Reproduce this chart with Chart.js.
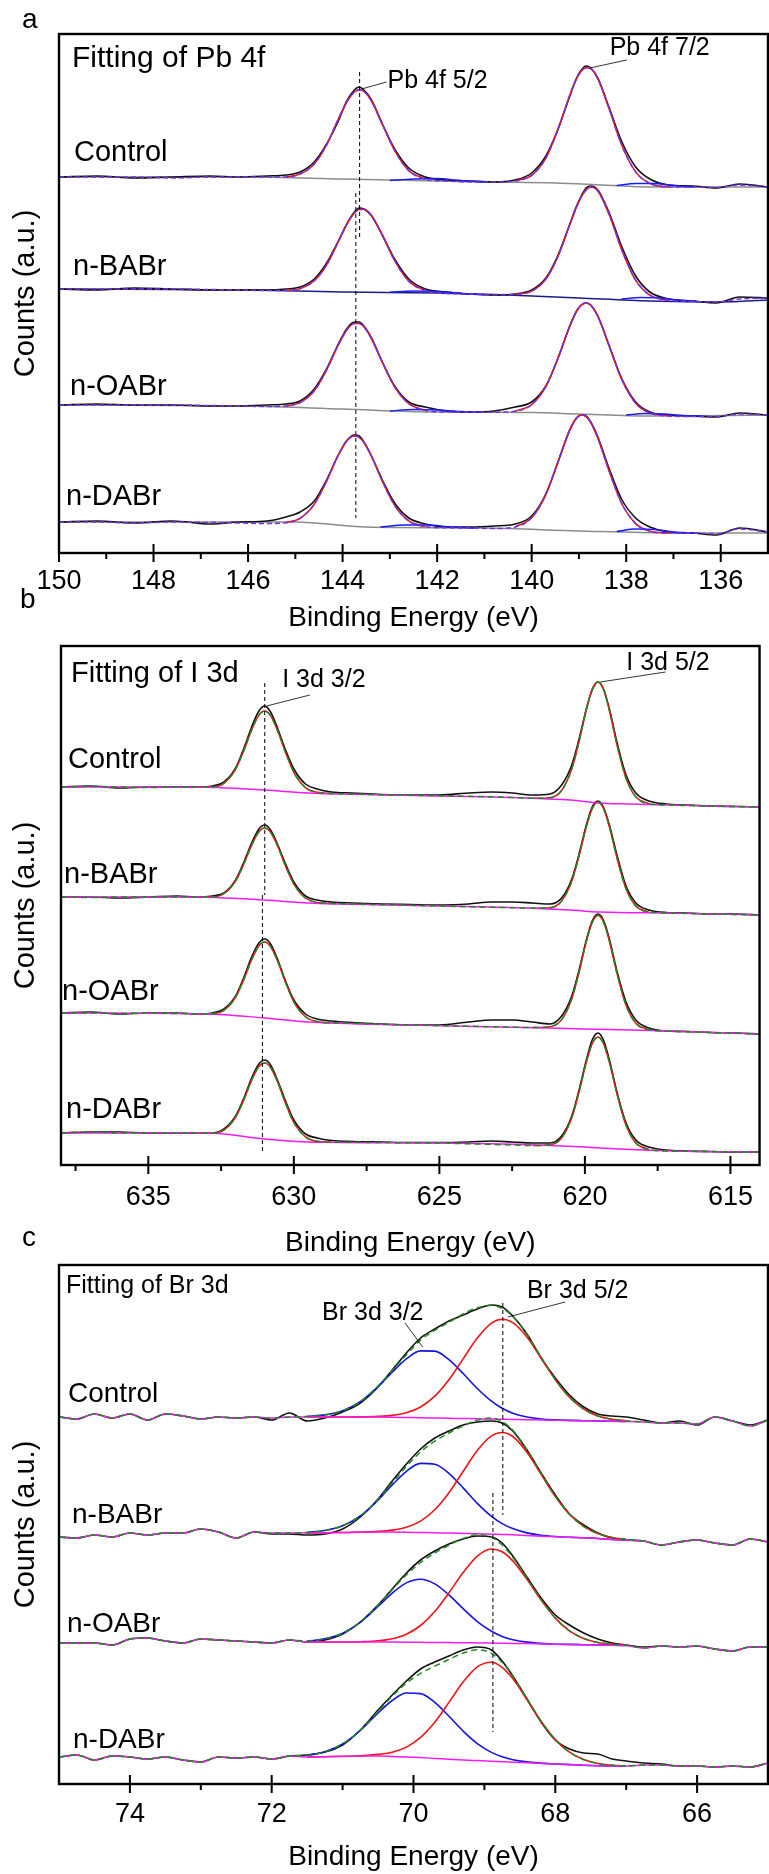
<!DOCTYPE html>
<html>
<head>
<meta charset="utf-8">
<script src="https://cdn.jsdelivr.net/npm/chart.js@4.4.1/dist/chart.umd.min.js"></script>
<style>
  html, body { margin: 0; padding: 0; background: #fff; }
  #page { position: relative; width: 769px; height: 1874px; overflow: hidden; }
  canvas { position: absolute; left: 0; }
</style>
</head>
<body>
<div id="page">
  <canvas id="pbChart" width="769" height="640" style="top:0px"></canvas>
  <canvas id="iChart" width="769" height="625" style="top:640px"></canvas>
  <canvas id="brChart" width="769" height="612" style="top:1262px"></canvas>
</div>
<script>
var FONT = '"Liberation Sans", Arial, Helvetica, sans-serif';
var samples = ['Control', 'n-BABr', 'n-OABr', 'n-DABr'];

//===========================================
//  Pb 4f spectra (intensity in a.u., relative to each trace's own offset)
//===========================================
var pbEnergy = [150, 149.2, 148.4, 147.6, 146.8, 146.2, 145.6, 145.2, 144.9, 144.6,
  144.35, 144.1, 143.9, 143.75, 143.65, 143.55, 143.4, 143.15, 142.9, 142.6,
  142.25, 141.8, 141.3, 140.8, 140.35, 140.0, 139.7, 139.45, 139.2, 139.05,
  138.95, 138.85, 138.75, 138.6, 138.35, 138.1, 137.8, 137.5, 137.1, 136.6,
  136.1, 135.6, 135];
var pbTicks = [150, 148, 146, 144, 142, 140, 138, 136];
var pbMinor = [149, 147, 145, 143, 141, 139, 137];
var pbOffset = [376, 264, 148, 31];
var pbRaw = [
  [0, 1, -1, 0, 1, 0, 1, 2, 5, 15, 32, 55, 77, 87, 90, 87, 78, 52, 28, 9, 0, -3, -4, -5, -3, 4, 21, 47, 80, 99, 107, 111, 109, 99, 68, 36, 10, -2, -8, -9, -11, -7, -10],
  [0, -1, 1, 0, -1, -1, -1, 0, 2, 10, 25, 47, 66, 77, 81, 80, 74, 53, 30, 10, 0, -3, -5, -6, -5, -1, 11, 33, 64, 83, 93, 101, 103, 99, 75, 43, 13, -3, -10, -12, -14, -8, -9],
  [0, 1, 0, 0, -1, -1, 0, 1, 4, 16, 35, 60, 77, 83, 83, 79, 68, 42, 19, 3, -2, -6, -7, -6, -2, 3, 19, 46, 78, 94, 100, 102, 100, 89, 58, 27, 3, -7, -10, -11, -12, -8, -10],
  [0, 1, -1, 1, -2, 0, 1, 5, 10, 21, 41, 66, 82, 87, 86, 80, 67, 41, 19, 4, -2, -5, -5, -4, -2, 6, 28, 59, 91, 104, 107, 106, 100, 85, 52, 23, 4, -5, -10, -11, -13, -6, -10]
];
var pbFit = [
  [0, 0, 0, -1, 0, 0, 0, 0, 3, 13, 31, 57, 76, 85, 87, 85.5, 77, 52, 26.6, 6.4, -2, -4, -5, -5, -3.9, 1.7, 18.9, 46.9, 81, 98.3, 106, 109.3, 108.4, 98.2, 66.7, 32.5, 5.1, -6.4, -10, -10, -10.5, -8, -10],
  [0, 0, 0, 0, -0.5, -1, -1.5, -1.5, 0.4, 8.2, 23.1, 46.3, 65.5, 75.9, 79.4, 79.7, 74.2, 53.1, 28.5, 7.9, -1.7, -4.5, -5, -5.5, -5.4, -2.1, 9.9, 31.9, 63.4, 82, 92.1, 99, 101.9, 98, 73.3, 39.9, 8.8, -6.1, -11.4, -12.5, -13, -10, -9],
  [0, 0, 0, 0, -0.5, -1, -1.5, -1, 2.4, 14.2, 33.9, 59.2, 75.8, 81.6, 81.6, 78.2, 67.3, 41.8, 18.2, 1.4, -5.4, -7, -7, -7.2, -6.2, 0.4, 18.4, 45.9, 78.4, 93.8, 99.9, 102, 99.7, 88.6, 57.8, 26.1, 1.8, -7.9, -11, -11.5, -11.5, -9, -10],
  [0, 0, -1, 0, -0.5, -1, -1.5, -0.7, 3.7, 17.7, 39.7, 66.2, 81.9, 86, 84.5, 79.6, 67, 39.9, 16.7, 1.1, -4.6, -5.8, -6, -6.5, -4.9, 4.2, 27.4, 59.2, 91.6, 104, 106.9, 105.4, 99.5, 83.8, 49.4, 19, -1.6, -9.1, -11, -11, -12, -7, -10]
];
// Shirley-type backgrounds, [energy, intensity]
var pbBack = [
  [[150, 0], [146, 0], [144, -2], [143, -3], [142, -4], [141, -5], [139.5, -6], [138.5, -8], [137.5, -10], [135, -10]],
  [[150, 0], [146, -1], [144, -3], [142, -4], [140.5, -6], [139, -9], [137.5, -12], [136, -13], [135, -11]],
  [[150, 0], [146, -1], [144, -4], [142, -7], [140, -7.5], [139, -9], [137.5, -11], [135, -10]],
  [[150, 0], [145, 0], [143.5, -5], [141, -6], [139, -9], [137, -11], [135, -11]]
];
// small metallic Pb components, null splits the two doublet lines
var pbMetal = [
  [[143.0, -3.5], [142.5, -2], [142.0, -1.5], [141.5, -3.5], [141.0, -5], [140.8, null], [138.2, -8.5], [137.8, -6.5], [137.4, -6.5], [137.0, -8.5], [136.6, -10]],
  [[143.0, -3.3], [142.5, -2], [142.0, -2.5], [141.5, -4.5], [141.0, -5.5], [140.8, null], [138.1, -10], [137.7, -8.5], [137.3, -9], [136.9, -11], [136.5, -12.5]],
  [[143.0, -6], [142.5, -4.5], [142.0, -5], [141.5, -6.5], [141.0, -7], [140.8, null], [138.0, -10], [137.6, -8.5], [137.2, -9], [136.8, -10.5], [136.4, -11]],
  [[143.2, -5], [142.7, -3], [142.2, -3], [141.7, -5], [141.2, -6], [140.8, null], [138.2, -9.5], [137.8, -7], [137.4, -7.5], [137.0, -10], [136.6, -11]]
];

//===========================================
//  I 3d spectra
//===========================================
var iEnergy = [638, 637, 636, 635, 634, 633.3, 632.8, 632.4, 632.0, 631.7,
  631.45, 631.2, 631.0, 630.8, 630.55, 630.3, 630.0, 629.6, 629.2, 628.7,
  628.0, 627.0, 626.0, 625.0, 624.0, 623.2, 622.5, 621.8, 621.2, 620.8,
  620.45, 620.2, 619.95, 619.75, 619.55, 619.35, 619.15, 618.9, 618.6, 618.25,
  617.8, 617.2, 616.5, 615.7, 614.8, 614];
var iTicks = [635, 630, 625, 620, 615];
var iMinor = [637.5, 632.5, 627.5, 622.5, 617.5];
var iOffset = [378, 268, 152, 32];
var iRaw = [
  [0, 1, -1, 0, 0, 0, 1, 5, 19, 40, 60, 76, 81, 75, 58, 38, 18, 3, -2, -5, -6, -7.5, -8, -8, -6, -5, -6, -8, -7, 2, 22, 48, 78, 97, 105, 97, 77, 45, 13, -6, -14, -17, -18, -19, -19.5, -20],
  [0, 0, -1, 0, 1, 0, 1, 4, 17, 36, 54, 68, 72, 67, 52, 34, 15, 1, -3, -5, -6, -7, -7.5, -8, -7, -5, -5, -6, -7, -1, 18, 43, 72, 90, 96, 89, 71, 42, 12, -6, -13, -15.5, -16, -17, -17, -18],
  [0, 1, -1, 0, 0, -1, 0, 4, 17, 37, 56, 70, 74, 69, 53, 33, 13, -1, -6, -8, -9.5, -11, -12, -12, -9, -7, -7, -9, -11, -3, 17, 43, 73, 92, 99, 92, 73, 42, 12, -7, -15, -18, -18.5, -19.5, -20, -21],
  [0, 1, 1, 0, 0, 0, 0, 4, 17, 36, 55, 69, 73, 68, 52, 33, 13, -1, -5, -7.5, -8.5, -9, -9.5, -9.5, -9, -8, -9, -10, -10, -3, 17, 43, 73, 93, 100, 92, 72, 41, 11, -7, -14, -17, -18, -18.5, -19, -19]
];
var iFit = [
  [0, 0.5, 0, -0.5, 0, 0, 0.1, 3.9, 17.9, 37.8, 57.1, 71.9, 76, 71.3, 55.7, 35.6, 14.7, -0.6, -5.3, -6.5, -7, -7.7, -8.2, -8.7, -9.3, -9.8, -10.5, -11.3, -10.7, -3.5, 18.2, 45.6, 77.5, 97.7, 105, 97, 75.5, 42.4, 9.8, -9.9, -16.8, -18, -18.5, -19, -19.6, -20],
  [0, -0.5, 0, 0, 0, 0, 0, 3.5, 16.1, 34.2, 51.9, 65.3, 69, 64.7, 50.5, 32, 12.9, -1, -5.4, -6.5, -7, -7.7, -8.3, -9, -9.7, -10.3, -10.7, -11.3, -10.8, -4, 15.9, 41.3, 70.4, 88.4, 95, 87.9, 69.2, 39.3, 9.3, -8.9, -15.1, -16, -16.5, -17, -17.5, -18],
  [0, 0, -0.5, 0, -0.5, -0.8, -0.7, 2.8, 15.9, 34.9, 53.3, 67.3, 71, 66.4, 51.4, 31.6, 11.2, -3.7, -8.5, -9.8, -10.3, -11.2, -12, -12.6, -13.2, -13.7, -14.2, -14.6, -13.7, -6.6, 14.3, 40.9, 71.6, 90.5, 97.7, 90.3, 71, 39.9, 8.7, -10.2, -16.8, -18.2, -18.8, -19.5, -20.3, -21],
  [0, 1, 0, 0, 0, 0, -0.1, 3, 15.9, 34.5, 52.8, 66.5, 70, 65.5, 50.4, 30.9, 10.5, -3.9, -8.3, -9.2, -9.3, -9.5, -9.8, -10, -10.8, -11.4, -12, -12.6, -11.8, -5, 15.4, 41.3, 70.9, 89.2, 96, 88.6, 69.7, 39.4, 8.8, -9.9, -16.5, -18, -18.3, -18.6, -18.9, -19]
];
var iBack = [
  [[638, 0], [633.5, 0], [631, -3], [629.5, -6], [626.5, -8], [622, -11], [620.5, -13], [619.5, -16], [618.5, -17], [617, -18], [614, -20]],
  [[638, 0], [633.5, 0], [631, -3], [629.5, -6], [626.5, -8], [622, -11], [620.5, -13], [619.5, -15], [617, -16], [614, -18]],
  [[638, 0], [633, -1], [631, -5], [629.5, -9], [626, -12], [622, -14.5], [620, -16], [617, -18], [614, -21]],
  [[638, 0], [633, 0], [631, -6], [629.5, -9], [625, -10], [620, -14], [619.5, -15], [617, -18], [614, -19]]
];

//===========================================
//  Br 3d spectra
//===========================================
var brEnergy = [75, 74.75, 74.5, 74.25, 74, 73.75, 73.5, 73.25, 73, 72.75, 72.5, 72.25, 72, 71.75,
  71.5, 71.25, 71, 70.75, 70.5, 70.3, 70.1, 69.9, 69.7, 69.5, 69.3, 69.1, 68.9, 68.75, 68.6,
  68.4, 68.2, 68, 67.8, 67.6, 67.4, 67.2, 67,
  66.75, 66.5, 66.25, 66, 65.75, 65.5, 65.25, 65];
var brPeakEnergy = [71.5, 71.25, 71, 70.75, 70.5, 70.3, 70.1, 69.9, 69.7, 69.5, 69.3, 69.1,
  68.9, 68.75, 68.6, 68.4, 68.2, 68, 67.8, 67.6, 67.4, 67.2, 67];
var brTicks = [74, 72, 70, 68, 66];
var brMinor = [73, 71, 69, 67];
var brOffset = [367, 249, 141, 27];
var brRaw = [
  [0, -2, 3, -1, 3, -3, 3, 1, -2, 0, -1, 0, -3, 4, -4, -1, 5, 14, 30, 47, 64, 79, 88, 96, 102, 108, 112, 110, 101, 83, 59, 39, 22, 10, 3, 1, 0, -3, -6, -4, -8, 0, -4, -8, -3],
  [-2, -3, 0, -2, 2, 0, 2, 2, 6, 3, -3, 3, 1, 1, 0, 1, 6, 18, 36, 54, 71, 86, 97, 104, 110, 113, 114, 112, 104, 85, 62, 40, 21, 10, 2, -3, -5, -6, -10, -7, -5, -8, -10, -4, -7],
  [0, 0, 0, -2, 4, 5, 2, 0, 4, 3, 2, 1, 0, 3, 1, 3, 9, 21, 38, 54, 70, 83, 92, 99, 104, 107, 106, 100, 87, 66, 45, 28, 18, 10, 4, 0, -2, -4, -3, -4, -3, -6, -8, -4, -4],
  [0, 2, -3, 1, 0, -2, 0, -3, -5, 0, -1, 0, -2, 1, 2, 5, 12, 27, 47, 62, 76, 88, 95, 101, 107, 110, 107, 96, 81, 58, 35, 17, 8, 4, 3, -2, -4, -6, -7, -9, -9, -10, -9, -10, -6]
];
var brFit = [
  [0, -2, 3, -1, 3, -3, 3, 1, -2, 0, -1, 0, -1, 0, 0.6, 2.1, 6.3, 15.4, 30.9, 46.4, 62.3, 76.9, 86.7, 94.7, 103.1, 109.2, 111.7, 108.7, 100.6, 82.6, 59.8, 37.6, 19.8, 8, 1.1, -2.2, -3.8, -5, -6, -6, -7, 0, -4, -9, -3],
  [-2, -3, 0, -2, 2, 0, 2, 2, 6, 3, -3, 3, 2, 2, 2.6, 4.5, 9.2, 19.1, 35.5, 52, 68.7, 83, 93.8, 102, 109, 114.9, 116.9, 113.4, 104.7, 85.4, 61.7, 38.8, 20.7, 8.6, 1.5, -2.6, -4.4, -6, -10, -7, -5, -8, -10, -4, -7],
  [0, 0, 0, -2, 4, 5, 2, 0, 4, 3, 2, 1, 0, 3, 1.9, 4.2, 9.8, 20.9, 37.7, 53.3, 68.1, 80.5, 90, 97.9, 104.5, 108.2, 105.7, 98, 85.8, 65.1, 43.4, 24.9, 12.2, 4.6, 0.5, -1.3, -2.2, -5, -3, -4, -3, -6, -8, -4, -4],
  [0, 2, -3, 1, 0, -2, 0, -3, -5, 0, -1, 0, -2, 1, 1.6, 5.2, 13.1, 26.9, 45.6, 60.8, 73.9, 83.7, 90.8, 97.6, 103.9, 107.2, 103.6, 94.6, 80.9, 58.4, 35.9, 17.4, 4.8, -2.6, -6.5, -8.3, -8.8, -8, -8, -9, -9, -10, -9, -10, -6]
];
var brBack = [
  [0, -2, 3, -1, 3, -3, 3, 1, -2, 0, -1, 0, -1, 0, 0, 0, 0, 0, 0, -0.2, -0.5, -0.8, -1, -1.2, -1.5, -1.8, -2, -2.3, -2.5, -2.7, -3, -3.2, -3.4, -3.7, -4, -4.2, -4.5, -5, -6, -6, -7, 0, -4, -9, -3],
  [-2, -3, 0, -2, 2, 0, 2, 2, 6, 3, -3, 3, 2, 2, 2, 2.2, 2.5, 2.8, 3, 3, 2.8, 2.5, 2.2, 2, 1.6, 1.2, 0.8, 0.5, 0.2, -0.5, -1.2, -1.8, -2.3, -2.8, -3.5, -4.5, -5, -6, -10, -7, -5, -8, -10, -4, -7],
  [0, 0, 0, -2, 4, 5, 2, 0, 4, 3, 2, 1, 0, 3, 1, 1, 1, 1, 1, 0.9, 0.8, 0.7, 0.5, 0.4, 0.2, 0.1, 0, -0.2, -0.4, -0.6, -0.9, -1.2, -1.4, -1.7, -2, -2.2, -2.5, -5, -3, -4, -3, -6, -8, -4, -4],
  [0, 2, -3, 1, 0, -2, 0, -3, -5, 0, -1, 0, -2, 1, 0, 0.3, 0.6, 0.8, 1, 0.5, 0, -0.6, -1.4, -2.2, -3, -3.6, -4.2, -4.7, -5.2, -5.8, -6.4, -7, -7.6, -8.2, -8.7, -9, -9, -8, -8, -9, -9, -10, -9, -10, -6]
];
// Br 3d 3/2 component (on brPeakEnergy)
var br32 = [
  [0.6, 2.1, 6.3, 15.3, 30.3, 44.8, 58.1, 66.1, 65.9, 57.4, 43.5, 28.5, 15.8, 8.7, 3.8, 0, -2, -2.9, -3.4, -3.7, -4, -4.2, -4.5],
  [2.6, 4.5, 9.2, 19, 34.9, 50.1, 63.7, 71.6, 70.8, 61.7, 47.1, 31.6, 18.6, 11.4, 6.4, 2.1, -0.2, -1.5, -2.3, -2.8, -3.5, -4.5, -5],
  [1.9, 4.2, 9.8, 20.6, 36.5, 49.9, 60.1, 63.7, 59.1, 48.1, 34.3, 21.4, 11.7, 6.6, 3.3, 0.9, -0.4, -1.2, -1.4, -1.7, -2, -2.2, -2.5],
  [1.6, 5.2, 13, 26.5, 44, 56.5, 64, 63.4, 54.6, 40.8, 25.9, 13.4, 4.6, 0.2, -2.7, -4.9, -6.1, -7, -7.6, -8.2, -8.7, -9, -9]
];
// Br 3d 5/2 component (on brPeakEnergy)
var br52 = [
  [0, 0, 0, 0.1, 0.6, 1.6, 4.2, 10, 20.8, 37.3, 58.1, 78.9, 93.9, 97.7, 94.3, 79.9, 58.8, 37.3, 19.8, 8, 1.1, -2.2, -3.8],
  [2, 2.2, 2.5, 2.9, 3.6, 4.9, 7.8, 13.9, 25.2, 42.3, 63.5, 84.5, 99.1, 102.5, 98.5, 82.8, 60.7, 38.5, 20.7, 8.6, 1.5, -2.6, -4.4],
  [1, 1, 1, 1.3, 2.2, 4.3, 8.8, 17.5, 31.4, 50.2, 70.4, 86.9, 94, 91.2, 82.1, 63.6, 42.9, 24.9, 12.2, 4.6, 0.5, -1.3, -2.2],
  [0, 0.3, 0.7, 1.2, 2.6, 4.8, 9.9, 19.7, 34.8, 54.6, 75, 90.2, 94.8, 89.7, 78.4, 57.5, 35.6, 17.4, 4.8, -2.6, -6.5, -8.3, -8.8]
];

//===========================================
//  helpers
//===========================================
function trace(energy, values, offset) {
  return energy.map(function (e, i) {
    return { x: e, y: values[i] == null ? null : values[i] + offset };
  });
}
function pairs(list, offset) {
  return list.map(function (p) {
    return { x: p[0], y: p[1] == null ? null : p[1] + offset };
  });
}
// fitted peak only drawn inside its fit windows
function windowed(energy, values, offset, windows) {
  return energy.map(function (e, i) {
    var inside = windows.some(function (w) { return e <= w[0] && e >= w[1]; });
    return { x: e, y: inside ? values[i] + offset : null };
  });
}
function line(data, color, width, order, dash) {
  return {
    data: data, borderColor: color, borderWidth: width, order: order,
    borderDash: dash || [], pointRadius: 0, fill: false,
    cubicInterpolationMode: 'monotone', spanGaps: false
  };
}

function decorFor(cfg) {
  return {
    id: 'decor',
    afterDraw: function (chart) {
      var ctx = chart.ctx, a = chart.chartArea, x = chart.scales.x, y = chart.scales.y;
      ctx.save();
      ctx.strokeStyle = '#000';
      ctx.fillStyle = '#000';
      // dashed guides through the peak maxima
      ctx.lineWidth = 1;
      ctx.setLineDash([4, 3]);
      cfg.guides.forEach(function (g) {
        var px = x.getPixelForValue(g.e);
        ctx.beginPath();
        ctx.moveTo(px, y.getPixelForValue(g.from));
        ctx.lineTo(px, y.getPixelForValue(g.to));
        ctx.stroke();
      });
      ctx.setLineDash([]);
      // peak names with leader lines
      ctx.lineWidth = 0.8;
      ctx.textAlign = 'left';
      ctx.textBaseline = 'middle';
      cfg.peaks.forEach(function (p) {
        ctx.beginPath();
        ctx.moveTo(x.getPixelForValue(p.from[0]), y.getPixelForValue(p.from[1]));
        ctx.lineTo(x.getPixelForValue(p.to[0]), y.getPixelForValue(p.to[1]));
        ctx.stroke();
        ctx.font = p.size + 'px ' + FONT;
        ctx.fillText(p.text, x.getPixelForValue(p.at[0]), y.getPixelForValue(p.at[1]));
      });
      // frame
      ctx.lineWidth = 2.4;
      ctx.strokeRect(a.left, a.top, a.right - a.left, a.bottom - a.top);
      // major ticks cross the axis, minor ones point out
      ctx.lineWidth = 2;
      ctx.beginPath();
      cfg.major.forEach(function (v) {
        var px = x.getPixelForValue(v);
        ctx.moveTo(px, a.bottom - 9);
        ctx.lineTo(px, a.bottom + 9);
      });
      cfg.minor.forEach(function (v) {
        var px = x.getPixelForValue(v);
        ctx.moveTo(px, a.bottom);
        ctx.lineTo(px, a.bottom + 6);
      });
      ctx.stroke();
      // sample names, panel title and panel letters
      ctx.textBaseline = 'alphabetic';
      cfg.texts.forEach(function (t) {
        ctx.font = t.size + 'px ' + FONT;
        ctx.fillText(t.text, t.x, t.y);
      });
      ctx.restore();
    }
  };
}

function makePanel(id, cfg) {
  return new Chart(document.getElementById(id), {
    type: 'line',
    data: { datasets: cfg.datasets },
    options: {
      responsive: false,
      animation: false,
      devicePixelRatio: 1,
      events: [],
      layout: { padding: { top: cfg.padTop, right: 1, bottom: 0, left: 0 } },
      plugins: { legend: { display: false }, tooltip: { enabled: false } },
      scales: {
        x: {
          type: 'linear', reverse: true, min: cfg.min, max: cfg.max,
          afterBuildTicks: function (s) { s.ticks = cfg.major.map(function (v) { return { value: v }; }); },
          afterFit: function (s) { s.height = cfg.axisHeight; },
          grid: { display: false, drawTicks: false },
          border: { display: false },
          ticks: { padding: cfg.tickPad, autoSkip: false, maxRotation: 0, color: '#000',
                   font: { size: 27, family: FONT } },
          title: { display: true, text: 'Binding Energy (eV)', color: '#000',
                   font: { size: 28, family: FONT }, padding: { top: 0, bottom: cfg.titlePad } }
        },
        y: {
          min: 0, max: 519,
          afterFit: function (s) { s.width = cfg.left; },
          ticks: { display: false },
          grid: { display: false, drawTicks: false },
          border: { display: false },
          title: { display: true, text: 'Counts (a.u.)', color: '#000',
                   font: { size: 29, family: FONT }, padding: { top: 9, bottom: 0 } }
        }
      }
    },
    plugins: [decorFor(cfg)]
  });
}

//===========================================
//  Panel a: Pb 4f
//===========================================
var pbSets = [];
var pbWindows = [[145.5, 141.9], [140.7, 136.9]];
samples.forEach(function (name, k) {
  var off = pbOffset[k];
  pbSets.push(line(pairs(pbBack[k], off), k === 1 ? '#1c1c86' : '#8c8c8c', 1.5, 5));
  pbSets.push(line(trace(pbEnergy, pbRaw[k], off), '#111111', 1.6, 4));
  pbSets.push(line(windowed(pbEnergy, pbFit[k], off, pbWindows), '#f01414', 1.5, 3));
  pbSets.push(line(pairs(pbMetal[k], off), '#1a1aff', 1.4, 2));
  pbSets.push(line(trace(pbEnergy, pbFit[k], off), '#7430ee', 1.5, 1, [5, 3]));
});
makePanel('pbChart', {
  datasets: pbSets, min: 135, max: 150, padTop: 34, left: 59,
  axisHeight: 87, tickPad: 12, titlePad: 5,
  major: pbTicks, minor: pbMinor,
  guides: [{ e: 143.64, from: 481, to: 313 }, { e: 143.72, from: 360, to: 35 }],
  peaks: [
    { text: 'Pb 4f 5/2', size: 25, from: [143.6, 464], to: [143.07, 471], at: [143.05, 472] },
    { text: 'Pb 4f 7/2', size: 25, from: [138.77, 485], to: [137.99, 493], at: [138.35, 505] }
  ],
  texts: [
    { text: 'a', x: 22, y: 28, size: 28 },
    { text: 'b', x: 20, y: 608, size: 28 },
    { text: 'Fitting of Pb 4f', x: 72, y: 67, size: 30 },
    { text: 'Control', x: 74, y: 161, size: 29 },
    { text: 'n-BABr', x: 73, y: 275, size: 29 },
    { text: 'n-OABr', x: 70, y: 395, size: 29 },
    { text: 'n-DABr', x: 66, y: 505, size: 29 }
  ]
});

//===========================================
//  Panel b: I 3d
//===========================================
var iSets = [];
var iWindows = [[633.4, 628.6], [621.9, 617.4]];
samples.forEach(function (name, k) {
  var off = iOffset[k];
  iSets.push(line(trace(iEnergy, iRaw[k], off), '#111111', 1.6, 4));
  iSets.push(line(windowed(iEnergy, iFit[k], off, iWindows), '#f01414', 1.5, 3));
  iSets.push(line(pairs(iBack[k], off), '#f21cf2', 1.5, 2));
  iSets.push(line(trace(iEnergy, iFit[k], off), '#208a20', 1.5, 1, [6, 4]));
});
makePanel('iChart', {
  datasets: iSets, min: 614, max: 638, padTop: 6, left: 61,
  axisHeight: 100, tickPad: 16, titlePad: 5,
  major: iTicks, minor: iMinor,
  guides: [{ e: 631.0, from: 482, to: 270 }, { e: 631.08, from: 270, to: 13 }],
  peaks: [
    { text: 'I 3d 3/2', size: 25, from: [630.94, 459], to: [629.45, 470], at: [630.4, 485] },
    { text: 'I 3d 5/2', size: 25, from: [619.47, 483], to: [617.23, 493], at: [618.58, 502] }
  ],
  texts: [
    { text: 'c', x: 22, y: 606, size: 28 },
    { text: 'Fitting of I 3d', x: 71, y: 42, size: 29 },
    { text: 'Control', x: 68, y: 128, size: 29 },
    { text: 'n-BABr', x: 64, y: 243, size: 29 },
    { text: 'n-OABr', x: 62, y: 360, size: 29 },
    { text: 'n-DABr', x: 66, y: 478, size: 29 }
  ]
});

//===========================================
//  Panel c: Br 3d
//===========================================
var brSets = [];
samples.forEach(function (name, k) {
  var off = brOffset[k];
  brSets.push(line(trace(brEnergy, brRaw[k], off), '#111111', 1.6, 5));
  brSets.push(line(trace(brPeakEnergy, br32[k], off), '#1414e6', 1.6, 4));
  brSets.push(line(trace(brPeakEnergy, br52[k], off), '#f01414', 1.6, 3));
  brSets.push(line(trace(brEnergy, brBack[k], off), '#f21cf2', 1.5, 2));
  brSets.push(line(trace(brEnergy, brFit[k], off), '#208a20', 1.5, 1, [6, 4]));
});
makePanel('brChart', {
  datasets: brSets, min: 65, max: 75, padTop: 3, left: 59,
  axisHeight: 90, tickPad: 14, titlePad: 0,
  major: brTicks, minor: brMinor,
  guides: [{ e: 68.74, from: 481, to: 269 }, { e: 68.88, from: 291, to: 52 }],
  peaks: [
    { text: 'Br 3d 3/2', size: 25, from: [70.12, 461], to: [69.87, 437], at: [71.29, 471] },
    { text: 'Br 3d 5/2', size: 25, from: [67.86, 482], to: [68.67, 467], at: [68.4, 493] }
  ],
  texts: [
    { text: 'Fitting of Br 3d', x: 66, y: 31, size: 25 },
    { text: 'Control', x: 68, y: 140, size: 28 },
    { text: 'n-BABr', x: 72, y: 261, size: 28 },
    { text: 'n-OABr', x: 67, y: 370, size: 28 },
    { text: 'n-DABr', x: 73, y: 486, size: 28 }
  ]
});
</script>
</body>
</html>
